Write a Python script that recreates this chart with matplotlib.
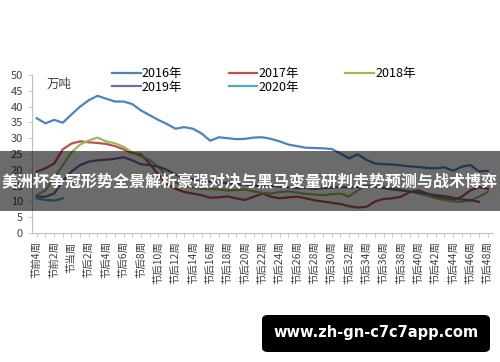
import numpy as np
import matplotlib.pyplot as plt
from matplotlib.patches import FancyBboxPatch

plt.rcParams['font.family'] = ['Noto Sans CJK SC', 'DejaVu Sans']

nan = np.nan
weeks = list(range(-4, 49))
week_labels = [f"节前{-w}周" if w < 0 else ("节当周" if w == 0 else f"节后{w}周") for w in weeks]

y2016 = [36.3, 34.7, 35.8, 34.9, 37.5, 40.0, 42.0, 43.4, 42.5, 41.6, 41.6, 40.8, 38.8, 37.3,
         35.8, 34.5, 33.0, 33.5, 33.0, 31.5, 29.2, 30.3, 30.0, 29.7, 29.8, 30.2, 30.3, 29.8,
         29.0, 28.0, 27.5, 27.0, 26.9, 26.8, 26.6, 25.2, 23.6, 24.9, 23.2, 22.0, 21.8, 21.7,
         21.4, 21.1, 20.9, 20.6, 20.5, 20.8, 19.7, 21.0, 21.5, 19.5, 19.7]
y2017 = [19.4, 20.5, 22.0, 26.5, 28.3, 29.0, 28.7, 28.5, 28.2, 27.5, 26.5, 25.3, 24.9, 22.0,
         18.5, 15.5, 14.0, 13.0, 12.5, 12.0, 11.2, 11.3, 11.6, 11.0, 10.5, 11.5, 12.5, 11.5,
         11.0, 11.3, 11.5, 11.0, 10.4, 10.0, 9.6, 9.2, 8.5, 8.1, 8.3, 10.0, 10.8, 11.0,
         11.5, 13.0, 13.5, 12.5, 11.5, 11.0, 10.4, 11.5, 13.5, 14.5, 14.0]
y2018 = [12.0, 13.5, 17.5, 21.5, 25.5, 28.0, 29.3, 30.2, 29.0, 28.4, 27.3, 25.5, 24.3, 23.2,
         21.0, 18.0, 16.0, 15.0, 14.5, 14.0, 14.0, 13.8, 13.5, 13.6, 13.8, 13.2, 12.7, 12.5,
         13.0, 13.2, 12.8, 12.4, 12.2, 12.0, 12.3, 12.5, 11.6, 13.5, 15.0, 14.8, 14.7, 14.3,
         13.8, 13.3, 12.5, 11.8, 11.0, 10.5, 10.0, 9.9, 10.3, 11.5, 13.0]
y2019 = [11.5, 11.5, 12.5, 16.5, 19.5, 21.5, 22.6, 23.0, 23.2, 23.5, 24.0, 23.0, 21.8, 21.5,
         21.0, 20.0, 18.5, 17.5, 17.0, 16.5, 16.3, 16.0, 15.8, 15.5, 15.3, 15.0, 14.8, 15.0,
         14.7, 14.5, 14.2, 14.3, 14.0, 14.2, 14.4, 14.6, 14.4, 14.6, 14.8, 14.7, 14.2, 13.8,
         13.5, 13.1, 12.8, 12.4, 12.0, 11.7, 11.2, 10.6, 10.4, 9.9, nan]
y2020 = [11.0, 10.5, 10.3, 11.0] + [nan] * 49

series = [("2016年", y2016, "#4F81BD"), ("2017年", y2017, "#C0504D"),
          ("2018年", y2018, "#9BBB59"), ("2019年", y2019, "#8064A2"),
          ("2020年", y2020, "#4BACC6")]

fig = plt.figure(figsize=(5, 3.62), dpi=100)
ax = fig.add_axes([0.064, 0.356, 0.922, 0.437])

x = np.arange(len(weeks))
handles = {}
for name, vals, color in series:
    h, = ax.plot(x, vals, color=color, lw=1.6, label=name)
    handles[name] = h

ax.set_ylim(0, 50)
ax.set_yticks(range(0, 51, 5))
ax.set_xlim(-0.55, 52.6)
ax.set_xticks(x)
ax.set_xticklabels([lab if w % 2 == 0 else "" for w, lab in zip(weeks, week_labels)],
                   rotation=90, fontsize=7.5, color="#404040")
ax.tick_params(axis="y", labelsize=8, colors="#404040", length=3, width=0.6, color="#bfbfbf")
ax.tick_params(axis="x", length=3, width=0.6, color="#bfbfbf", pad=3)
for s in ["top", "right"]:
    ax.spines[s].set_visible(False)
for s in ["left", "bottom"]:
    ax.spines[s].set_color("#bfbfbf")
    ax.spines[s].set_linewidth(0.8)

order = ["2016年", "2019年", "2017年", "2020年", "2018年"]
fig.legend([handles[n] for n in order], order, ncol=3, frameon=False,
           loc="upper left", bbox_to_anchor=(0.211, 0.832), fontsize=9,
           handlelength=2.3, handletextpad=0.1, columnspacing=3.7,
           labelspacing=0.05, borderpad=0)
fig.text(0.094, 0.768, "万吨", fontsize=9, color="#404040", va="center")

# dark banner across the chart
fig.patches.append(plt.Rectangle((0, 1 - 211 / 362), 1, 60 / 362, transform=fig.transFigure,
                                 facecolor="black", alpha=0.58, edgecolor="none", zorder=5))
fig.text(0.5, 1 - 182 / 362, "美洲杯争冠形势全景解析豪强对决与黑马变量研判走势预测与战术博弈",
         fontsize=11.5, fontweight="bold", color="white", ha="center", va="center", zorder=6)

# url box at the bottom
fig.patches.append(FancyBboxPatch((262 / 500, 1 - 352 / 362), 228 / 500, 37 / 362,
                                  boxstyle="round,pad=0,rounding_size=0.012",
                                  transform=fig.transFigure, facecolor="black",
                                  edgecolor="none", zorder=5))
fig.text(376 / 500, 1 - 333 / 362, "www.zh-gn-c7c7app.com", fontsize=10.5, fontweight="bold",
         color="white", ha="center", va="center", zorder=6, family="DejaVu Sans")

fig.savefig("out.png", dpi=100)
